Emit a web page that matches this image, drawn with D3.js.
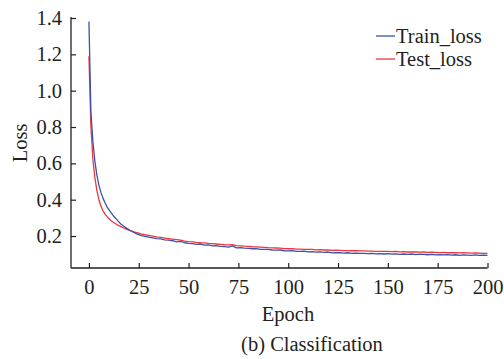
<!DOCTYPE html>
<html>
<head>
<meta charset="utf-8">
<script src="https://cdn.jsdelivr.net/npm/d3@7"></script>
<style>
  html, body { margin: 0; padding: 0; background: #fff; }
  svg { display: block; }
  text { font-family: "Liberation Serif", "Times New Roman", serif; fill: #231f20; }
</style>
</head>
<body>
<script>
// ---- data ----
const epochs = [0,1,2,3,4,5,6,7,8,9,10,11,12,13,14,15,16,17,18,19,20,21,22,23,24,25,
  26,28,30,32,34,36,38,40,42,44,46,48,50,52,54,56,58,60,62,64,66,68,70,72,74,76,78,80,
  82,84,86,88,90,92,94,96,98,100,102,104,106,108,110,112,114,116,118,120,122,124,126,128,
  130,132,134,136,138,140,142,144,146,148,150,152,154,156,158,160,162,164,166,168,170,172,
  174,176,178,180,182,184,186,188,190,192,194,196,198,200];

const trainLoss = [1.38,0.88,0.72,0.61,0.535,0.48,0.44,0.41,0.385,0.362,0.345,0.33,0.315,0.302,0.29,0.278,0.266,0.258,0.25,0.242,0.235,0.228,0.222,0.217,0.212,0.208,
  0.204,0.198,0.194,0.190,0.186,0.184,0.179,0.177,0.174,0.168,0.170,0.163,0.159,0.158,0.154,0.156,0.150,0.151,0.146,0.147,0.143,0.142,0.139,0.146,0.135,0.136,0.133,0.132,
  0.130,0.131,0.127,0.126,0.127,0.123,0.122,0.123,0.119,0.118,0.120,0.116,0.115,0.117,0.113,0.114,0.111,0.113,0.110,0.112,0.107,0.108,0.109,0.106,
  0.108,0.105,0.106,0.104,0.105,0.103,0.105,0.102,0.103,0.101,0.103,0.100,0.102,0.099,0.101,0.099,0.101,0.098,0.100,0.099,0.097,0.099,
  0.096,0.098,0.096,0.098,0.095,0.097,0.094,0.096,0.095,0.094,0.096,0.093,0.095,0.094];

const testLoss = [1.19,0.80,0.62,0.52,0.45,0.40,0.365,0.34,0.322,0.308,0.296,0.286,0.277,0.27,0.263,0.257,0.252,0.247,0.242,0.237,0.233,0.229,0.225,0.222,0.219,0.216,
  0.212,0.207,0.203,0.199,0.195,0.192,0.189,0.186,0.183,0.180,0.177,0.172,0.169,0.168,0.165,0.163,0.162,0.159,0.158,0.156,0.154,0.152,0.151,0.153,0.147,0.146,0.144,0.143,
  0.141,0.140,0.139,0.138,0.136,0.135,0.134,0.133,0.131,0.130,0.130,0.128,0.128,0.127,0.126,0.126,0.124,0.125,0.123,0.123,0.121,0.122,0.121,0.120,
  0.120,0.119,0.119,0.118,0.118,0.117,0.117,0.116,0.116,0.115,0.115,0.114,0.115,0.113,0.114,0.112,0.113,0.112,0.111,0.112,0.110,0.111,
  0.110,0.109,0.110,0.108,0.109,0.108,0.107,0.108,0.107,0.106,0.107,0.106,0.105,0.105];

const xTicks = [0,25,50,75,100,125,150,175,200];
const yTicks = [0.2,0.4,0.6,0.8,1.0,1.2,1.4];
const seriesNames = ["Train_loss","Test_loss"];
const seriesColors = ["#3f51a8","#e8383d"];

// ---- chart ----
const W = 504, H = 359;
const svg = d3.select("body").append("svg").attr("width", W).attr("height", H);

const x = d3.scaleLinear().domain([-9, 200]).range([71, 487.5]);
const y = d3.scaleLinear().domain([0.024, 1.4]).range([268, 18]);

const fs = 20.5;

const xAxis = svg.append("g").attr("transform", "translate(0,268)")
  .call(d3.axisBottom(x).tickValues(xTicks).tickSize(-5).tickSizeOuter(0).tickPadding(11).tickFormat(d3.format("d")));
const yAxis = svg.append("g").attr("transform", "translate(71,0)")
  .call(d3.axisLeft(y).tickValues(yTicks).tickSize(-5).tickSizeOuter(0).tickPadding(9).tickFormat(d3.format(".1f")));

[xAxis, yAxis].forEach(g => {
  g.selectAll("path.domain").attr("stroke", "#231f20").attr("stroke-width", 1.3);
  g.selectAll(".tick line").attr("stroke", "#231f20").attr("stroke-width", 1.2);
  g.selectAll(".tick text").attr("font-size", fs).attr("font-family", "Liberation Serif").attr("fill", "#231f20");
});
xAxis.select("path.domain").attr("d", `M${x(-9)},0H${x(200)}`);
yAxis.select("path.domain").attr("d", `M0,${y(1.4)-1}V${y(0.024)}`);

const line = d3.line().x(d => x(d[0])).y(d => y(d[1]));

const series = [trainLoss, testLoss];
[1, 0].forEach(i => {
  svg.append("path")
    .datum(epochs.map((e, k) => [e, series[i][k]]))
    .attr("fill", "none")
    .attr("stroke", seriesColors[i])
    .attr("stroke-width", 1.3)
    .attr("stroke-linejoin", "round")
    .attr("d", line);
});

// legend
const legend = svg.append("g");
seriesNames.forEach((n, i) => {
  const ly = 36 + i * 23;
  legend.append("line").attr("x1", 376).attr("x2", 395).attr("y1", ly).attr("y2", ly)
    .attr("stroke", seriesColors[i]).attr("stroke-width", 1.3);
  legend.append("text").attr("x", 396).attr("y", ly + 6.5).attr("font-size", fs).text(n);
});

// axis titles
svg.append("text").attr("x", 288).attr("y", 321).attr("text-anchor", "middle").attr("font-size", fs).text("Epoch");
svg.append("text").attr("transform", "translate(27,143) rotate(-90)").attr("text-anchor", "middle").attr("font-size", fs).text("Loss");
svg.append("text").attr("x", 312).attr("y", 351).attr("text-anchor", "middle").attr("font-size", fs).text("(b) Classification");
</script>
</body>
</html>
